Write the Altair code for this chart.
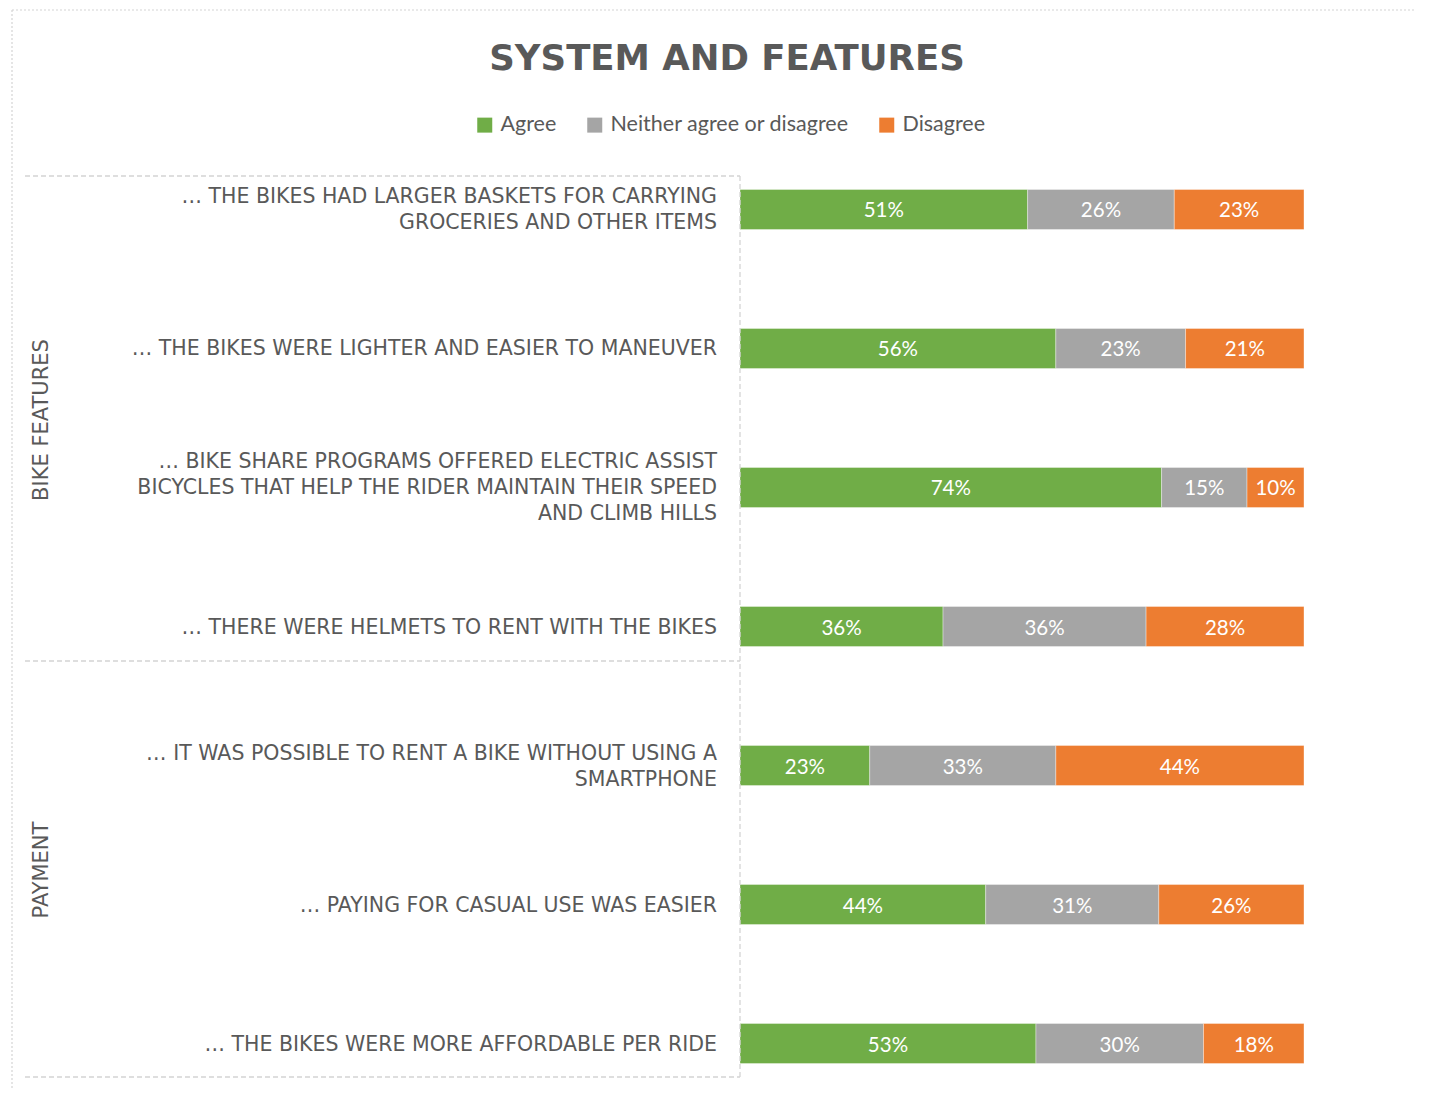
import altair as alt
import pandas as pd

categories = [
    "… THE BIKES HAD LARGER BASKETS FOR CARRYING\nGROCERIES AND OTHER ITEMS",
    "… THE BIKES WERE LIGHTER AND EASIER TO MANEUVER",
    "… BIKE SHARE PROGRAMS OFFERED ELECTRIC ASSIST\nBICYCLES THAT HELP THE RIDER MAINTAIN THEIR SPEED\nAND CLIMB HILLS",
    "… THERE WERE HELMETS TO RENT WITH THE BIKES",
    "… IT WAS POSSIBLE TO RENT A BIKE WITHOUT USING A\nSMARTPHONE",
    "… PAYING FOR CASUAL USE WAS EASIER",
    "… THE BIKES WERE MORE AFFORDABLE PER RIDE",
]
group_names = ["BIKE FEATURES", "PAYMENT"]
series = ["Agree", "Neither agree or disagree", "Disagree"]
agree = [51, 56, 74, 36, 23, 44, 53]
neither = [26, 23, 15, 36, 33, 31, 30]
disagree = [23, 21, 10, 28, 44, 26, 18]
colors = ["#70AD47", "#A5A5A5", "#ED7D31"]
title_text = "SYSTEM AND FEATURES"

TEXT = "#595959"
LINE = "#D4D4D4"
LH = 26

rows = []
for i, c in enumerate(categories):
    for j, (s, vals) in enumerate(zip(series, [agree, neither, disagree])):
        rows.append({"category": c, "series": s, "value": vals[i], "order": j})
df = pd.DataFrame(rows)
cat_df = pd.DataFrame({"category": categories,
                       "nlines": [c.count("\n") + 1 for c in categories]})
one = pd.DataFrame({"a": [0]})

yenc = alt.Y("category:N", sort=categories,
             scale=alt.Scale(domain=categories, paddingInner=0.712, paddingOuter=0.097),
             axis=None)
xscale = alt.Scale(domain=[0, 1], nice=False, zero=True)

base = alt.Chart(df).transform_stack(
    stack="value", groupby=["category"], as_=["x0", "x1"], offset="normalize",
    sort=[alt.SortField("order", order="ascending")]
).transform_calculate(mid="(datum.x0 + datum.x1) / 2", label="datum.value + '%'")

bars = base.mark_bar(stroke="white", strokeWidth=0.6, strokeOpacity=0.6).encode(
    x=alt.X("x0:Q", scale=xscale, axis=None),
    x2="x1:Q",
    y=yenc,
    color=alt.Color("series:N", scale=alt.Scale(domain=series, range=colors),
                    legend=alt.Legend(title=None, orient="none", legendX=-266, legendY=-62,
                                      direction="horizontal", symbolType="square",
                                      symbolSize=225, symbolStrokeWidth=0, symbolOpacity=1,
                                      labelFont="Lato", labelFontSize=21.5, labelColor=TEXT,
                                      labelLimit=400, columnPadding=27, labelOffset=5)),
)

vals = base.mark_text(color="white", font="Lato", fontSize=20.5, baseline="middle", dy=2).encode(
    x=alt.X("mid:Q", scale=xscale), y=yenc, text="label:N")

label_layers = []
for n in [1, 2, 3]:
    label_layers.append(
        alt.Chart(cat_df).transform_filter(f"datum.nlines == {n}").mark_text(
            align="right", baseline="middle", lineBreak="\n", lineHeight=LH,
            font="DejaVu Sans", fontSize=20.5, color=TEXT, dy=-(n - 1) * LH / 2 + 1
        ).encode(y=yenc, x=alt.value(-23), text="category:N")
    )

g1 = alt.Chart(pd.DataFrame({"g": [group_names[0]]})).mark_text(
    angle=270, font="DejaVu Sans", fontSize=21, color=TEXT, baseline="middle"
).encode(x=alt.value(-698), y=alt.value(244), text="g:N")
g2 = alt.Chart(pd.DataFrame({"g": [group_names[1]]})).mark_text(
    angle=270, font="DejaVu Sans", fontSize=21, color=TEXT, baseline="middle"
).encode(x=alt.value(-698), y=alt.value(694), text="g:N")

title = alt.Chart(pd.DataFrame({"t": [title_text]})).mark_text(
    font="DejaVu Sans", fontWeight="bold", fontSize=35.5, color=TEXT, baseline="middle"
).encode(x=alt.value(-13), y=alt.value(-117), text="t:N")

dash = [5, 3]
r_top = alt.Chart(one).mark_rule(color=LINE, strokeDash=dash, strokeWidth=1.3).encode(
    x=alt.value(-715), x2=alt.value(0), y=alt.value(0))
r_mid = alt.Chart(one).mark_rule(color=LINE, strokeDash=dash, strokeWidth=1.3).encode(
    x=alt.value(-715), x2=alt.value(0), y=alt.value(485))
r_bot = alt.Chart(one).mark_rule(color=LINE, strokeDash=dash, strokeWidth=1.3).encode(
    x=alt.value(-715), x2=alt.value(0), y=alt.value(901))
r_vert = alt.Chart(one).mark_rule(color=LINE, strokeDash=dash, strokeWidth=1.3).encode(
    x=alt.value(0), y=alt.value(0), y2=alt.value(901))

b_top = alt.Chart(one).mark_rule(color=LINE, strokeDash=[2, 2], strokeWidth=1.2).encode(
    x=alt.value(-728), x2=alt.value(700), y=alt.value(-166))
b_left = alt.Chart(one).mark_rule(color=LINE, strokeDash=[2, 2], strokeWidth=1.2).encode(
    x=alt.value(-728), y=alt.value(-166), y2=alt.value(930))

chart = alt.layer(
    b_top, b_left, bars, vals, *label_layers, g1, g2, title, r_top, r_mid, r_bot, r_vert
).properties(
    width=564, height=901,
    padding={"left": 732, "top": 168, "right": 110, "bottom": 12},
    autosize=alt.AutoSizeParams(type="none"),
).configure_view(stroke=None)

chart.save("out.html", embed_options={"renderer": "svg", "actions": False})
